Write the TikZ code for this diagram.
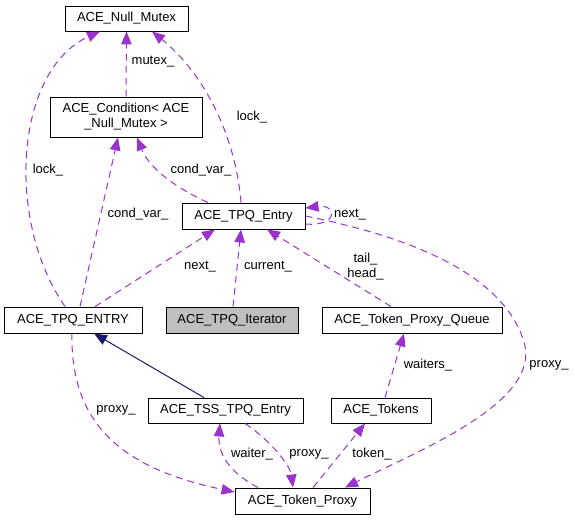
\documentclass[tikz,border=0pt]{standalone}
\usepackage{fontspec}
\setmainfont{Liberation Sans}
\usetikzlibrary{arrows.meta}
\definecolor{edgepurple}{HTML}{9A32CD}
\definecolor{inhnavy}{HTML}{191970}
\definecolor{boxgray}{HTML}{BFBFBF}
\begin{document}
\begin{tikzpicture}[x=1pt,y=-1pt,
  cls/.style={draw=black, line width=0.9pt, inner sep=0pt, font=\fontsize{13}{15}\selectfont, align=center, fill=white},
  lbl/.style={inner sep=0pt, font=\fontsize{13}{15}\selectfont, align=center},
  usage/.style={draw=edgepurple, line width=1pt, dash pattern=on 7pt off 5pt, -{Triangle[length=13pt,width=10.5pt,fill=edgepurple]}},
  inherit/.style={draw=inhnavy, line width=1pt, -{Triangle[length=13pt,width=10.5pt,fill=inhnavy]}}
]
\useasboundingbox (0,0) rectangle (575,520);
% classes
\node[cls, minimum width=123pt, minimum height=25pt] (nm) at (126.5,18.5) {ACE\_Null\_Mutex};
\node[cls, minimum width=152pt, minimum height=40pt] (cond) at (126,117) {ACE\_Condition< ACE\\\_Null\_Mutex >};
\node[cls, minimum width=123pt, minimum height=26pt] (te) at (243.5,216) {ACE\_TPQ\_Entry};
\node[cls, minimum width=138pt, minimum height=26pt] (TE) at (73,320) {ACE\_TPQ\_ENTRY};
\node[cls, minimum width=132pt, minimum height=26pt, fill=boxgray] (it) at (232,320) {ACE\_TPQ\_Iterator};
\node[cls, minimum width=180pt, minimum height=26pt] (q) at (412,320) {ACE\_Token\_Proxy\_Queue};
\node[cls, minimum width=155pt, minimum height=25pt] (tss) at (225.5,410.5) {ACE\_TSS\_TPQ\_Entry};
\node[cls, minimum width=100pt, minimum height=25pt] (tok) at (381,410.5) {ACE\_Tokens};
\node[cls, minimum width=135pt, minimum height=26pt] (tp) at (302.5,501) {ACE\_Token\_Proxy};
% connectors
\draw[usage] (cond.north) -- (nm.south);
\draw[usage] ([xshift=-8pt]TE.north) .. controls (5,220) and (15,70) .. ([xshift=-26.5pt]nm.south);
\draw[usage] ([xshift=-2.5pt]te.north) .. controls (235,130) and (200,70) .. ([xshift=25.5pt]nm.south);
\draw[usage] ([xshift=-35.5pt]te.north) .. controls (180,190) and (150,170) .. ([xshift=11pt]cond.south);
\draw[usage] ([xshift=7pt]TE.north) -- ([xshift=-8pt]cond.south);
\draw[usage] ([xshift=22pt]TE.north) -- ([xshift=-28.5pt]te.south);
\draw[usage] ([xshift=1pt]it.north) -- ([xshift=-2.5pt]te.south);
\draw[usage] ([xshift=-21pt]q.north) -- ([xshift=23.5pt]te.south);
\draw[usage] ([yshift=-8pt]te.east) .. controls (338,227) and (338,204) .. ([yshift=8pt]te.east);
\draw[usage] (te.east) .. controls (400,235) and (502,270) .. (524,342) .. controls (542,402) and (420,450) .. ([xshift=42.5pt]tp.north);
\draw[inherit] ([xshift=-21.5pt]tss.north) -- ([xshift=21pt]TE.south);
\draw[usage] ([xshift=-1pt]TE.south) .. controls (70,430) and (130,470) .. ([yshift=9pt]tp.west);
\draw[usage] ([xshift=-44.5pt]tp.north) .. controls (225,470) and (218,450) .. ([xshift=-5.5pt]tss.south);
\draw[usage] ([xshift=19.5pt]tss.south) .. controls (270,440) and (290,465) .. ([xshift=-9.5pt]tp.north);
\draw[usage] ([xshift=10.5pt]tp.north) -- ([xshift=-16pt]tok.south);
\draw[usage] ([xshift=4pt]tok.north) -- ([xshift=-8pt]q.south);
% labels
\node[lbl] (l1) at (153,62) {mutex\_};
\node[lbl] (l2) at (48,170) {lock\_};
\node[lbl] (l3) at (252,117) {lock\_};
\node[lbl] (l4) at (201,170) {cond\_var\_};
\node[lbl] (l5) at (138,214) {cond\_var\_};
\node[lbl] (l6) at (200,267) {next\_};
\node[lbl] (l7) at (268,267) {current\_};
\node[lbl] (l8) at (365.5,266.5) {tail\_\\head\_};
\node[lbl] (l9) at (350,215) {next\_};
\node[lbl] (l10) at (549,365) {proxy\_};
\node[lbl] (l11) at (116,410) {proxy\_};
\node[lbl] (l12) at (252,454) {waiter\_};
\node[lbl] (l13) at (309,454) {proxy\_};
\node[lbl] (l14) at (372,454) {token\_};
\node[lbl] (l15) at (428,365) {waiters\_};
\end{tikzpicture}
\end{document}
